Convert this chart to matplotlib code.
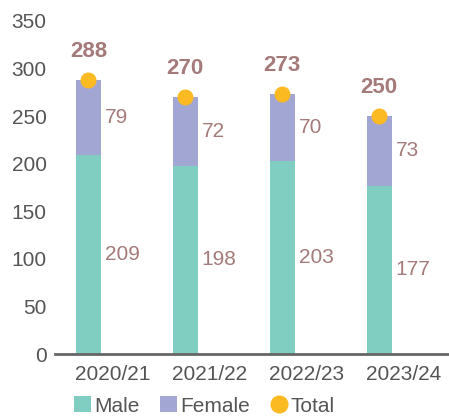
import matplotlib
matplotlib.use("Agg")
import matplotlib.pyplot as plt
from matplotlib.lines import Line2D
from matplotlib.patches import Patch

categories = ["2020/21", "2021/22", "2022/23", "2023/24"]
male = [209, 198, 203, 177]
female = [79, 72, 70, 73]
total = [288, 270, 273, 250]

plt.rcParams['font.family'] = ['Liberation Sans', 'DejaVu Sans']

c_male = "#80CDC1"
c_female = "#A2A6D2"
c_total = "#FBBA22"
c_lbl = "#A47A7A"
c_txt = "#555555"

fig = plt.figure(figsize=(4.49, 4.16), dpi=100)
ax = fig.add_axes([0.1225, 0.149, 0.8775, 0.801])

x = list(range(len(categories)))
w = 0.26
ax.bar(x, male, width=w, color=c_male, label="Male")
ax.bar(x, female, width=w, bottom=male, color=c_female, label="Female")
ax.plot(x, total, linestyle="none", marker="o", markersize=10.5, color=c_total, label="Total", zorder=5)

for i in x:
    ax.text(i + w / 2 + 0.04, male[i] / 2, str(male[i]), ha="left", va="center", fontsize=15, color=c_lbl)
    ax.text(i + w / 2 + 0.04, male[i] + female[i] / 2, str(female[i]), ha="left", va="center", fontsize=15, color=c_lbl)
    ax.annotate(str(total[i]), (i, total[i]), xytext=(0, 13), textcoords="offset points",
                ha="center", va="bottom", fontsize=16, fontweight="bold", color=c_lbl)

ax.set_xlim(-0.345, 3.72)
ax.set_ylim(0, 350)
ax.set_yticks(range(0, 351, 50))
ax.set_xticks([i + 0.25 for i in x])
ax.set_xticklabels(categories)
ax.tick_params(axis="both", length=0, labelsize=15, colors=c_txt)
ax.tick_params(axis="x", pad=8)
ax.tick_params(axis="y", pad=6)
for s in ["left", "right", "top"]:
    ax.spines[s].set_visible(False)
ax.spines["bottom"].set_color("#666666")
ax.spines["bottom"].set_linewidth(2)

handles = [
    Patch(facecolor=c_male, label="Male"),
    Patch(facecolor=c_female, label="Female"),
    Line2D([], [], linestyle="none", marker="o", markersize=12, color=c_total, label="Total"),
]
leg = fig.legend(handles=handles, loc="center", bbox_to_anchor=(0.455, 0.024), ncol=3, frameon=False,
                 fontsize=15, handlelength=0.8, handleheight=0.8, handletextpad=0.15, columnspacing=1.0,
                 labelcolor=c_txt)

fig.savefig("out.png", dpi=100)
